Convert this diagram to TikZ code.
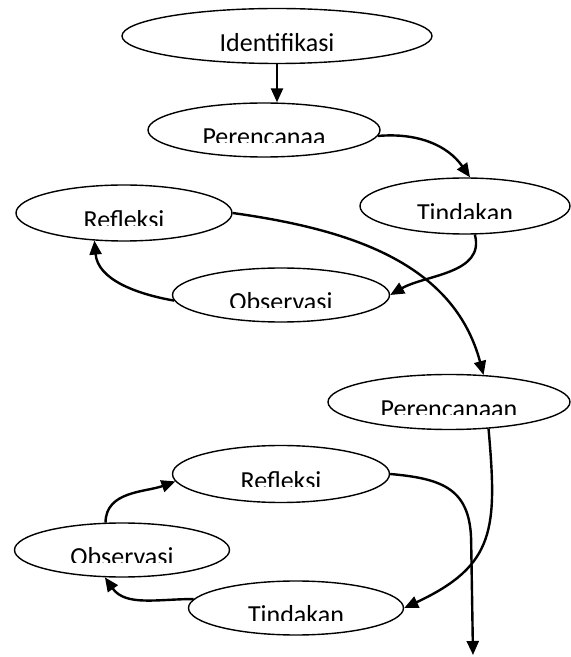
\documentclass[tikz,border=0pt]{standalone}
\usepackage{fontspec}
\setmainfont{Carlito}
\usepackage{tikz}
\usetikzlibrary{shapes}
\usetikzlibrary{arrows.meta}

\tikzset{
  stage/.style={ellipse, draw, line width=1.4pt, inner sep=0pt},
  lbl/.style={font=\fontsize{26}{31}\selectfont, inner sep=0pt, anchor=base},
  flow/.style={line width=2.4pt, -{Triangle[length=14pt,width=12pt]}}
}
% label whose lower edge is cut off, as in the original
\newcommand{\cutlabel}[2]{%
  \begin{scope}
    \clip ([yshift=-12.3pt]#1.west) rectangle (#1.east |- #1.north);
    \node[lbl] at ([yshift=-15.7pt]#1.center) {#2};
  \end{scope}}

\begin{document}
\begin{tikzpicture}[x=1pt,y=1pt]
		\useasboundingbox (0,0) rectangle (571,657);
		%Ellipses
			\foreach \name/\x/\y/\w/\h in {iden/277/621/310/55, per1/264/527/232/54,
				tin1/465/451/210/56, ref1/124/444/216/56, obs1/281/362/217/54,
				per2/449/255/242/55, ref2/281/183/217/57, obs2/122/107/215/54,
				tin2/296/49/215/54}
			{
				\node[stage, minimum width=\w pt, minimum height=\h pt] (\name) at (\x,\y) {};
			}
			\coordinate (end) at (473,2);
		%Labels
			\node[lbl] at ([yshift=-15.7pt]iden.center) {Identifikasi};
			\cutlabel{per1}{Perencanaa}
			\cutlabel{tin1}{Tindakan}
			\cutlabel{ref1}{Refleksi}
			\cutlabel{obs1}{Observasi}
			\cutlabel{per2}{Perencanaan}
			\cutlabel{ref2}{Refleksi}
			\cutlabel{obs2}{Observasi}
			\cutlabel{tin2}{Tindakan}
		%Start
			\draw[flow] (iden.south) -- (iden.south |- per1.north);
		%First cycle
			\draw[flow] (per1.-3) to[out=5,in=125] (tin1.80);
			\draw[flow] (tin1.-71) to[out=-75,in=30] (obs1.east);
			\draw[flow] (obs1.183) to[out=170,in=-85] (ref1.223);
			\draw[flow] (ref1.east) to[out=-8,in=105] (per2.38);
		%Second cycle
			\draw[flow] (per2.-34) to[out=-85,in=25,looseness=1.3] (tin2.east);
			\draw[flow] (tin2.175) to[out=180,in=-55] (obs2.238);
			\draw[flow] (obs2.121) to[out=90,in=200] (ref2.184);
			\draw[flow] (ref2.east) to[out=-5,in=90,looseness=1.3] ++(81,-70) -- (end);
	\end{tikzpicture}
\end{document}
